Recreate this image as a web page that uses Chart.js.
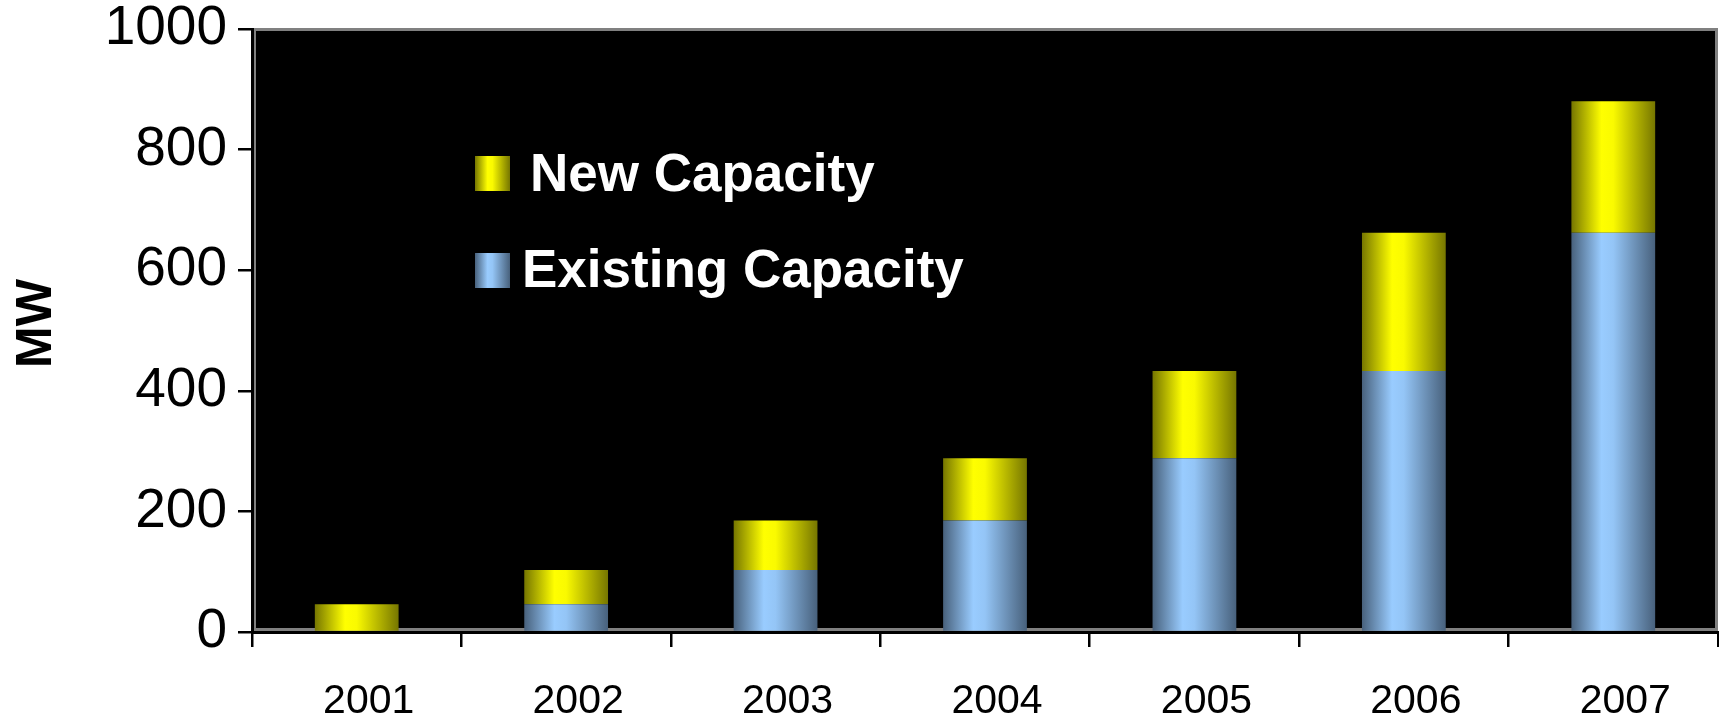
<!DOCTYPE html>
<html>
<head>
<meta charset="utf-8">
<title>MW</title>
<script src="https://cdn.jsdelivr.net/npm/chart.js@4.4.1/dist/chart.umd.min.js"></script>
<style>
    html, body { margin: 0; padding: 0; background: #ffffff; }
    #wrap { width: 1719px; height: 721px; position: relative; }
</style>
</head>
<body>
<div id="wrap"><canvas id="myChart"></canvas></div>
<script>
// Jahre und Werte (MW)
var years = ['2001', '2002', '2003', '2004', '2005', '2006', '2007'];
var existingCapacity = [0, 46, 103, 185, 288, 433, 662];
var newCapacity = [46, 57, 82, 103, 145, 229, 218];
var yTicks = [0, 200, 400, 600, 800, 1000];

var FONT = '"Liberation Sans", Arial, sans-serif';
var BAR_PCT = 0.4;

// horizontaler Farbverlauf, "Zylinder"-Optik
var yellowStops = [[0, '#767600'], [0.36, '#ffff00'], [0.5, '#fafa00'], [1, '#767600']];
var blueStops = [[0, '#48617c'], [0.36, '#99ccff'], [0.5, '#94c5f6'], [1, '#48617c']];

function makeGradient(ctx, x0, x1, stops) {
    var g = ctx.createLinearGradient(x0, 0, x1, 0);
    stops.forEach(function (s) { g.addColorStop(s[0], s[1]); });
    return g;
}

function barGradient(stops) {
    return function (context) {
        var chart = context.chart;
        var xs = chart.scales.x;
        if (!xs || !chart.chartArea || context.dataIndex === undefined) {
            return stops[1][1];
        }
        var w = xs.width / years.length * BAR_PCT;
        var c = xs.getPixelForValue(context.dataIndex);
        return makeGradient(chart.ctx, c - w / 2, c + w / 2, stops);
    };
}

// schwarzer Plotbereich mit grauem Rahmen
var plotBackground = {
    id: 'plotBackground',
    beforeDraw: function (chart) {
        var a = chart.chartArea;
        var ctx = chart.ctx;
        ctx.save();
        ctx.fillStyle = '#000000';
        ctx.fillRect(a.left, a.top, a.right - a.left, a.bottom - a.top);
        ctx.strokeStyle = '#808080';
        ctx.lineWidth = 3;
        ctx.strokeRect(a.left + 2.5, a.top + 0.5, a.right - a.left - 4, a.bottom - a.top - 3);
        ctx.restore();
    }
};

// Legende im Plotbereich
var innerLegend = {
    id: 'innerLegend',
    afterDatasetsDraw: function (chart) {
        var a = chart.chartArea;
        var ctx = chart.ctx;
        var items = [
            { ds: chart.data.datasets[1], stops: yellowStops, top: 156, textX: 530, base: 191 },
            { ds: chart.data.datasets[0], stops: blueStops, top: 253, textX: 522, base: 287 }
        ];
        ctx.save();
        ctx.font = 'bold 53px ' + FONT;
        ctx.textBaseline = 'alphabetic';
        items.forEach(function (it) {
            var mx = a.left + 223;
            ctx.fillStyle = makeGradient(ctx, mx, mx + 35, it.stops);
            ctx.fillRect(mx, it.top, 35, 35);
            ctx.fillStyle = '#ffffff';
            ctx.fillText(it.ds.label, a.left + (it.textX - 252), it.base);
        });
        ctx.restore();
    }
};

var ctx = document.getElementById('myChart').getContext('2d');

var myChart = new Chart(ctx, {
    type: 'bar',
    data: {
        labels: years,
        datasets: [{
            label: 'Existing Capacity',
            data: existingCapacity,
            backgroundColor: barGradient(blueStops),
            hoverBackgroundColor: barGradient(blueStops),
            borderWidth: 0,
            barPercentage: BAR_PCT,
            categoryPercentage: 1
        }, {
            label: 'New Capacity',
            data: newCapacity,
            backgroundColor: barGradient(yellowStops),
            hoverBackgroundColor: barGradient(yellowStops),
            borderWidth: 0,
            barPercentage: BAR_PCT,
            categoryPercentage: 1
        }]
    },
    options: {
        responsive: true,
        maintainAspectRatio: false,
        animation: false,
        events: [],
        layout: { padding: { top: 29, right: 1, left: 0, bottom: 0 } },
        scales: {
            x: {
                stacked: true,
                border: { display: true, color: '#000000', width: 3 },
                grid: {
                    offset: true,
                    drawOnChartArea: false,
                    drawTicks: true,
                    tickLength: 15,
                    color: '#000000',
                    lineWidth: 2.5
                },
                ticks: {
                    color: '#000000',
                    font: { family: FONT, size: 41 },
                    padding: 30,
                    labelOffset: 12,
                    maxRotation: 0
                },
                afterFit: function (scale) { scale.height = 89; }
            },
            y: {
                stacked: true,
                min: 0,
                max: 1000,
                border: { display: true, color: '#000000', width: 3 },
                grid: {
                    drawOnChartArea: false,
                    drawTicks: true,
                    tickLength: 14,
                    color: '#000000',
                    lineWidth: 2.5
                },
                afterBuildTicks: function (scale) {
                    scale.ticks = yTicks.map(function (v) { return { value: v }; });
                },
                ticks: {
                    color: '#000000',
                    font: { family: FONT, size: 55, lineHeight: 0.5 },
                    padding: 11,
                    callback: function (value) { return String(value); }
                },
                title: {
                    display: true,
                    text: ' MW',
                    color: '#000000',
                    font: { family: FONT, size: 50, weight: 'bold' },
                    padding: { top: 7, bottom: 0 }
                },
                afterFit: function (scale) { scale.width = 252; }
            }
        },
        plugins: {
            legend: { display: false },
            tooltip: { enabled: false }
        }
    },
    plugins: [plotBackground, innerLegend]
});
</script>
</body>
</html>
